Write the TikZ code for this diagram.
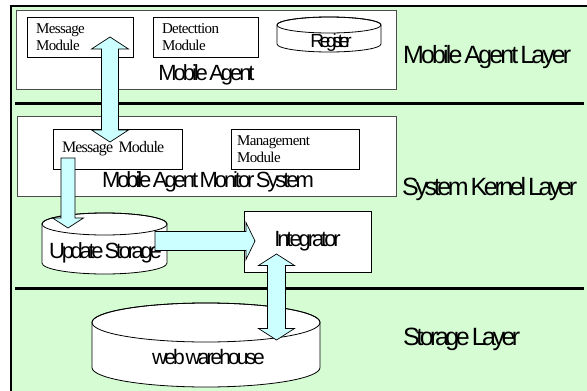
\documentclass[tikz,border=0pt]{standalone}
\usepackage{fontspec}
\setmainfont{Liberation Serif}
\newfontfamily\arialf{Liberation Sans}
\usetikzlibrary{calc}
\definecolor{bggreen}{RGB}{214,252,212}
\definecolor{arrcyan}{RGB}{204,255,255}
\newcommand{\setsp}[1]{\spaceskip=#1\relax}
\tikzset{
  blockarrow/.style={draw=black, fill=arrcyan, line width=0.7pt, line join=miter},
  bigbox/.style={draw=black!70, fill=white, line width=0.8pt},
  modbox/.style={draw=black, fill=white, line width=0.8pt, minimum height=40pt,
    align=left, inner xsep=9pt, inner ysep=0pt,
    font=\fontsize{15}{17}\selectfont\addfontfeatures{LetterSpace=-4}\setsp{2.5pt}},
  sanslabel/.style={font=\arialf\fontsize{22}{24}\selectfont\addfontfeatures{LetterSpace=-14}\setsp{1.5pt},
    inner sep=0pt, anchor=base},
  layerlabel/.style={font=\arialf\fontsize{25}{27}\selectfont\addfontfeatures{LetterSpace=-11.5}\setsp{2pt},
    inner sep=0pt, anchor=base west},
  divider/.style={line width=3pt},
  cylline/.style={draw=black, fill=white, line width=0.8pt},
}
% cylinder: cx, top-centre y, bottom-centre y, rx, ry
\newcommand{\mycyl}[5]{%
  \path[cylline] (#1-#4,#2) -- (#1-#4,#3) arc[start angle=180, end angle=0, x radius=#4, y radius=#5]
    -- (#1+#4,#2) arc[start angle=0, end angle=-180, x radius=#4, y radius=#5] -- cycle;
  \draw[line width=0.8pt] (#1,#2) ellipse[x radius=#4, y radius=#5];
}
% vertical double block arrow: top tip, bottom tip, shaft half width, head half width, head length
\newcommand{\vdarrow}[5]{%
  \draw[blockarrow] (#1) -- ($(#1)+(#4,#5)$) -- ($(#1)+(#3,#5)$) -- ($(#2)+(#3,-#5)$)
    -- ($(#2)+(#4,-#5)$) -- (#2) -- ($(#2)+(-#4,-#5)$) -- ($(#2)+(-#3,-#5)$)
    -- ($(#1)+(-#3,#5)$) -- ($(#1)+(-#4,#5)$) -- cycle;
}
\begin{document}
\begin{tikzpicture}[x=1pt,y=-1pt]
\useasboundingbox (0,0) rectangle (587,391);
\clip (0,0) rectangle (587,391);
% background
\draw[fill=bggreen, line width=1.5pt] (11,6) rectangle (620,420);
% layer areas
\draw[bigbox] (16.5,10) rectangle (396,89);
\draw[bigbox] (17,116) rectangle (396,196);
\draw[divider] (15,103.5) -- (584,103.5);
\draw[divider] (15,288) -- (584,288);
% modules
\node[modbox, text width=88pt] (msgA) at (80,37) {Message\\Module};
\node[modbox, text width=87pt] (det) at (205.5,37) {Detecttion\\Module};
\node[modbox, text width=111pt, font=\fontsize{16}{18}\selectfont\addfontfeatures{LetterSpace=-5}\setsp{3pt}] (msgK) at (117.5,149) {Message Module};
\node[modbox, text width=116pt, inner xsep=6pt] (mgmt) at (295,149) {Management\\Module};
\node[draw=black, fill=white, line width=0.8pt, minimum width=127pt, minimum height=61pt,
  font=\arialf\fontsize{22}{24}\selectfont\addfontfeatures{LetterSpace=-14}] (integ) at (307.5,241.5) {Integrator};
% cylinders
\mycyl{329}{25}{44}{52}{8}
\mycyl{104.5}{224}{263}{62.5}{11}
\mycyl{206}{322.5}{367.5}{114}{19.5}
% labels
\node[sanslabel] (malbl) at (206.5,80) {Mobile Agent};
\node[sanslabel] (mamslbl) at (208,187) {Mobile Agent Monitor System};
\node[sanslabel, font=\arialf\fontsize{19}{21}\selectfont\addfontfeatures{LetterSpace=-22}] (reg) at (331,47) {Register};
\node[sanslabel, font=\arialf\fontsize{22}{24}\selectfont\addfontfeatures{LetterSpace=-15}\setsp{1pt}] (upd) at (105.5,258) {Update Storage};
\node[sanslabel, font=\arialf\fontsize{21}{23}\selectfont\addfontfeatures{LetterSpace=-14}\setsp{1pt}] (wh) at (208.5,364) {web warehouse};
\node[layerlabel] (l1) at (403,63) {Mobile Agent Layer};
\node[layerlabel, font=\arialf\fontsize{25}{27}\selectfont\addfontfeatures{LetterSpace=-13.5}\setsp{2pt}] (l2) at (402,195) {System Kernel Layer};
\node[layerlabel, font=\arialf\fontsize{25}{27}\selectfont\addfontfeatures{LetterSpace=-14}\setsp{2pt}] (l3) at (403,345) {Storage Layer};
% connectors
\coordinate (a1t) at (110,37);
\coordinate (a1b) at (110,142);
\vdarrow{a1t}{a1b}{8.5}{18.5}{12}
\coordinate (a2s) at (68,158);
\coordinate (a2e) at (68,228);
\draw[blockarrow] ($(a2s)+(-7,0)$) -- ($(a2s)+(7,0)$) -- ($(a2e)+(7,-10)$) -- ($(a2e)+(15.5,-10)$)
  -- (a2e) -- ($(a2e)+(-15.5,-10)$) -- ($(a2e)+(-7,-10)$) -- cycle;
\coordinate (a3s) at (155,241);
\coordinate (a3e) at (255,241);
\draw[blockarrow] ($(a3s)+(0,-9.5)$) -- ($(a3e)+(-9,-9.5)$) -- ($(a3e)+(-9,-18.5)$) -- (a3e)
  -- ($(a3e)+(-9,18.5)$) -- ($(a3e)+(-9,9.5)$) -- ($(a3s)+(0,9.5)$) -- cycle;
\coordinate (a4t) at (276.5,254);
\coordinate (a4b) at (276.5,340);
\vdarrow{a4t}{a4b}{9}{18}{11.5}
\end{tikzpicture}
\end{document}
